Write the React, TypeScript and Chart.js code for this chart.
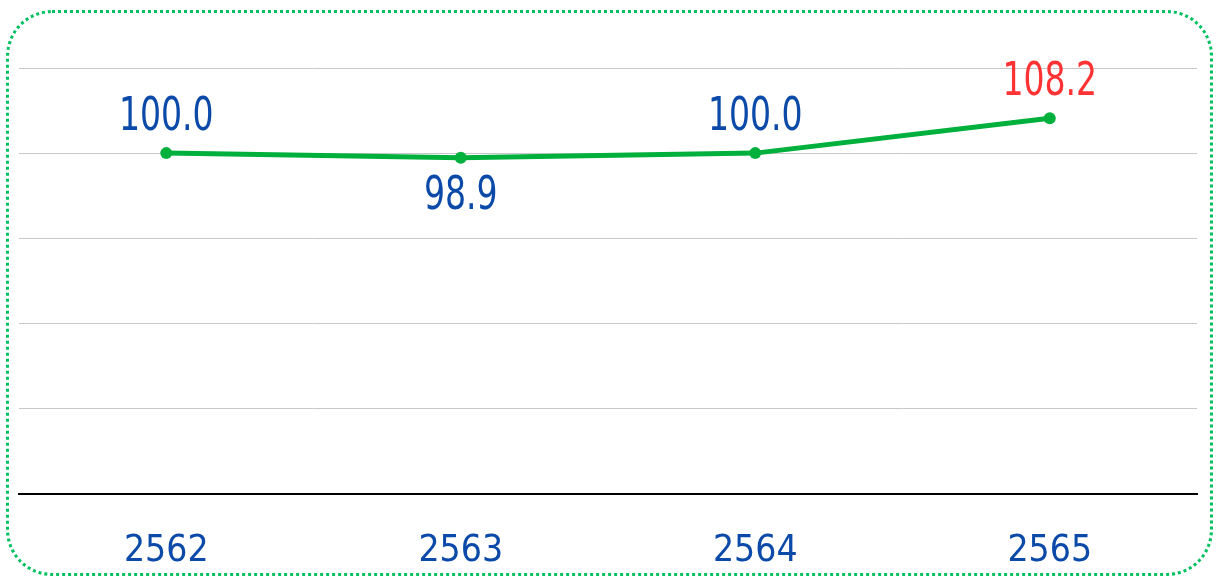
import React, { useEffect, useRef } from "react";
import { Chart, registerables } from "chart.js";

Chart.register(...registerables);

const years = ["2562", "2563", "2564", "2565"];
const values = [100.0, 98.9, 100.0, 108.2];
const labelColors = ["#0b4aa8", "#0b4aa8", "#0b4aa8", "#ff3333"];
const labelAbove = [true, false, true, true];
const yTicks = [20, 40, 60, 80, 100, 120];

const FONT = "'DejaVu Sans Condensed', 'DejaVu Sans', sans-serif";

const valueLabels = {
  id: "valueLabels",
  afterDatasetsDraw(chart: any) {
    const ctx = chart.ctx;
    const meta = chart.getDatasetMeta(0);
    meta.data.forEach((pt: any, i: number) => {
      const v = values[i];
      const y = labelAbove[i] ? pt.y - 23 : pt.y + 51;
      ctx.save();
      ctx.translate(pt.x, y);
      ctx.scale(0.8, 1);
      ctx.font = `46px ${FONT}`;
      ctx.textAlign = "center";
      ctx.textBaseline = "alphabetic";
      ctx.fillStyle = labelColors[i];
      ctx.fillText(v.toFixed(1), 0, 0);
      ctx.restore();
    });
  },
};

export default function App() {
  const ref = useRef<HTMLCanvasElement>(null);
  useEffect(() => {
    if (!ref.current) return;
    const chart = new Chart(ref.current, {
      type: "line",
      data: {
        labels: years,
        datasets: [
          {
            data: values,
            borderColor: "#00b03c",
            backgroundColor: "#00b03c",
            borderWidth: 5,
            pointRadius: 6,
            pointHoverRadius: 6,
            pointBackgroundColor: "#00b03c",
            pointBorderWidth: 0,
            tension: 0,
          },
        ],
      },
      options: {
        animation: false,
        responsive: false,
        maintainAspectRatio: false,
        layout: { padding: { left: 19, right: 25, top: 68, bottom: -34 } },
        plugins: { legend: { display: false }, tooltip: { enabled: false } },
        scales: {
          x: {
            offset: true,
            grid: { display: false, drawTicks: false },
            border: { display: true, color: "#000000", width: 2 },
            ticks: {
              color: "#0b4aa8",
              font: { family: FONT, size: 37 },
              padding: 36,
            },
          },
          y: {
            min: yTicks[0],
            max: yTicks[yTicks.length - 1],
            afterBuildTicks(axis: any) {
              axis.ticks = yTicks.map((v) => ({ value: v }));
            },
            grid: { color: "#c8c8c8", lineWidth: 1, drawTicks: false },
            border: { display: false },
            ticks: { display: false },
          },
        },
      },
      plugins: [valueLabels],
    });
    return () => chart.destroy();
  }, []);
  return (
    <div style={{ position: "fixed", left: 0, top: 0, width: 1222, height: 576, background: "#fff" }}>
      <canvas ref={ref} width={1222} height={576} style={{ position: "absolute", left: 0, top: 0 }} />
      <div
        style={{
          position: "absolute",
          left: 6,
          top: 10,
          width: 1201,
          height: 560,
          border: "3px dotted #00c060",
          borderRadius: 46,
          pointerEvents: "none",
        }}
      />
    </div>
  );
}
